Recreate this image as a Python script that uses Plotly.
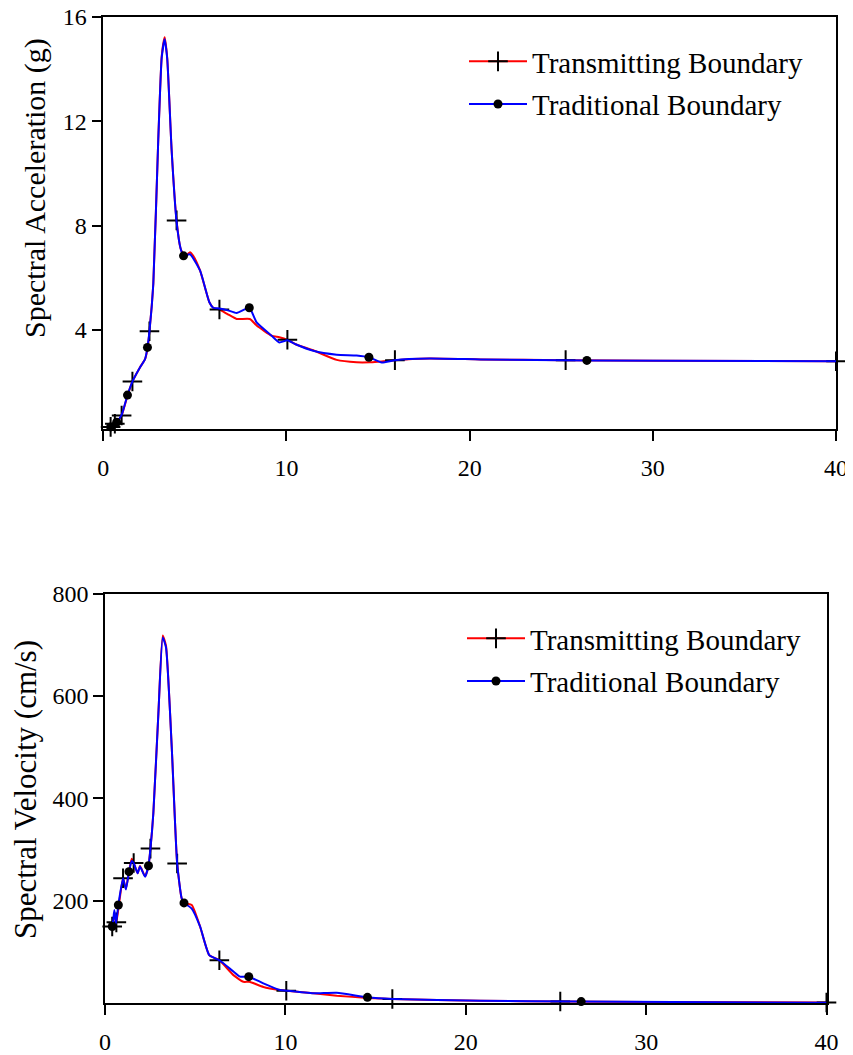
import plotly.graph_objects as go

# ---------------- data ----------------
# Top panel: Spectral Acceleration (g)
sa_trans_x = [0.27, 0.40, 0.63, 0.76, 1.00, 1.33, 1.59, 2.00, 2.28, 2.42, 2.52, 2.73, 3.00, 3.19, 3.35,
              3.49, 3.73, 4.00, 4.22, 4.42, 4.60, 4.73, 4.90, 5.28, 5.79, 6.00, 6.34, 6.80, 7.28, 8.00,
              8.37, 9.19, 9.61, 10.05, 10.50, 11.46, 12.74, 13.83, 14.56, 15.20, 15.92, 17.80, 20.60,
              25.24, 30.00, 40.00]
sa_trans_y = [0.25, 0.28, 0.40, 0.48, 0.72, 1.50, 2.02, 2.56, 2.88, 3.30, 3.95, 5.77, 11.28, 14.50, 15.22,
              14.42, 10.90, 8.20, 7.12, 6.84, 6.90, 6.98, 6.85, 6.28, 5.06, 4.85, 4.78, 4.60, 4.42, 4.42,
              4.17, 3.78, 3.72, 3.62, 3.45, 3.22, 2.85, 2.76, 2.76, 2.79, 2.84, 2.90, 2.87,
              2.84, 2.82, 2.80]
sa_trans_marks = [1, 2, 4, 6, 10, 17, 26, 33, 40, 43, 45]

sa_trad_x = [0.27, 0.40, 0.73, 1.00, 1.32, 1.59, 2.00, 2.28, 2.41, 2.52, 2.73, 3.00, 3.19, 3.35, 3.49,
             3.73, 4.00, 4.22, 4.38, 4.73, 5.28, 5.79, 6.00, 6.34, 6.80, 7.28, 7.97, 8.37, 9.19, 9.61,
             10.05, 10.50, 11.46, 12.74, 13.83, 14.50, 15.20, 15.92, 17.80, 20.60, 26.40, 40.00]
sa_trad_y = [0.25, 0.28, 0.46, 0.74, 1.50, 2.02, 2.56, 2.88, 3.33, 3.95, 5.77, 11.28, 14.45, 15.15, 14.40,
             10.90, 8.15, 7.12, 6.84, 6.90, 6.28, 5.06, 4.85, 4.82, 4.75, 4.65, 4.85, 4.29, 3.78, 3.52,
             3.60, 3.45, 3.20, 3.05, 3.02, 2.95, 2.75, 2.84, 2.90, 2.87, 2.83, 2.80]
sa_trad_marks = [1, 2, 4, 8, 18, 26, 35, 40]

# Bottom panel: Spectral Velocity (cm/s)
sv_trans_x = [0.28, 0.40, 0.52, 0.63, 0.80, 1.00, 1.16, 1.33, 1.48, 1.59, 1.81, 1.94, 2.22, 2.41, 2.52,
              2.68, 2.96, 3.20, 3.38, 3.70, 4.00, 4.25, 4.40, 4.81, 5.27, 5.78, 6.34, 7.12, 7.67, 8.00,
              8.78, 9.70, 10.05, 11.55, 12.85, 14.55, 15.93, 20.80, 25.24, 30.00, 40.00]
sv_trans_y = [148, 150, 175, 158, 200, 244, 224, 257, 282, 274, 254, 268, 248, 268, 302,
              371, 566, 718, 698, 500, 273, 205, 196, 192, 150, 94, 84, 55, 42, 42,
              32, 26, 24.6, 19.5, 14.8, 10.5, 8.4, 5.0, 3.5, 2.5, 1.5]
sv_trans_marks = [1, 3, 5, 9, 14, 20, 26, 32, 36, 38, 40]

sv_trad_x = [0.28, 0.40, 0.52, 0.61, 0.74, 1.00, 1.16, 1.33, 1.48, 1.59, 1.81, 1.94, 2.22, 2.41, 2.52,
             2.68, 2.96, 3.20, 3.38, 3.70, 4.00, 4.25, 4.38, 4.81, 5.27, 5.78, 6.34, 7.12, 7.49, 7.97,
             8.78, 9.70, 10.05, 11.55, 12.85, 14.55, 15.93, 20.80, 26.40, 40.00]
sv_trad_y = [148, 150, 182, 156, 192, 244, 222, 257, 278, 274, 254, 267, 247, 268.5, 302,
             371, 566, 714, 695, 500, 273, 205, 196, 185, 150, 94, 84, 62, 52, 52,
             39, 26, 24.6, 19.5, 20.7, 11.7, 8.4, 5.0, 3.3, 1.2]
sv_trad_marks = [1, 4, 7, 13, 22, 29, 35, 38]

x_ticks = [0, 10, 20, 30, 40]
sa_ticks = [4, 8, 12, 16]
sv_ticks = [200, 400, 600, 800]

series_names = ["Transmitting Boundary", "Traditional Boundary"]
# ----------------------------------------------------------------

FONT = "'Liberation Serif', 'Times New Roman', Times, serif"
RED = "#ff0000"
BLUE = "#0000ff"

# the page body has an 8px margin; lay out in page pixels and convert
OFF = 8
W, H = 853 - OFF, 1055 - OFF


def px(p):
    return (p - OFF) / W


def py(p):
    return 1 - (p - OFF) / H


fig = go.Figure()


def add_series(x, y, marks, color, symbol, xa, ya, name, legend, group):
    fig.add_trace(go.Scatter(
        x=x, y=y, mode="lines", line=dict(color=color, width=2, shape="spline", smoothing=0.5),
        xaxis=xa, yaxis=ya, showlegend=False, hoverinfo="skip"))
    mx = [x[i] for i in marks]
    my = [y[i] for i in marks]
    if symbol == "cross":
        mk = dict(symbol="cross-thin", size=14, color="black", line=dict(color="black", width=2))
    else:
        mk = dict(symbol="circle", size=9, color="black", line=dict(width=0))
    fig.add_trace(go.Scatter(x=mx, y=my, mode="markers", marker=mk, xaxis=xa, yaxis=ya,
                             showlegend=False, cliponaxis=False))
    # legend entry
    fig.add_trace(go.Scatter(x=[None], y=[None], mode="lines+markers", name=name,
                             line=dict(color=color, width=2), marker=mk, legendgroup=group,
                             xaxis=xa, yaxis=ya, legend=legend))


add_series(sa_trans_x, sa_trans_y, sa_trans_marks, RED, "cross", "x", "y", series_names[0], "legend", "a1")
add_series(sa_trad_x, sa_trad_y, sa_trad_marks, BLUE, "dot", "x", "y", series_names[1], "legend", "a2")
add_series(sv_trans_x, sv_trans_y, sv_trans_marks, RED, "cross", "x2", "y2", series_names[0], "legend2", "b1")
add_series(sv_trad_x, sv_trad_y, sv_trad_marks, BLUE, "dot", "x2", "y2", series_names[1], "legend2", "b2")

axis_common = dict(showline=True, linecolor="black", linewidth=1.5, mirror=True, ticks="outside",
                   ticklen=10, tickwidth=1.5, tickcolor="black", showgrid=False, zeroline=False,
                   automargin=False, ticklabeloverflow="allow",
                   tickfont=dict(family=FONT, size=24, color="black"))
x_common = dict(ticklabelstandoff=6, **axis_common)
y_common = dict(ticksuffix="\u00a0\u00a0", **axis_common)

legend_common = dict(xanchor="left", yanchor="top", bgcolor="rgba(0,0,0,0)", itemwidth=58,
                     font=dict(family=FONT, size=29, color="black"), tracegroupgap=2)

fig.update_layout(
    template="none",
    width=W, height=H, margin=dict(l=0, r=0, t=0, b=0, autoexpand=False),
    paper_bgcolor="white", plot_bgcolor="white",
    font=dict(family=FONT, color="black"),
    xaxis=dict(domain=[px(103.3), px(836)], anchor="y", range=[0, 40], tickvals=x_ticks, **x_common),
    yaxis=dict(domain=[py(429), py(17)], anchor="x", range=[0.2, 16], tickvals=sa_ticks, **y_common),
    xaxis2=dict(domain=[px(105), px(826.5)], anchor="y2", range=[0, 40], tickvals=x_ticks, **x_common),
    yaxis2=dict(domain=[py(1003.3), py(593.5)], anchor="x2", range=[0, 800], tickvals=sv_ticks, **y_common),
    legend=dict(x=px(464), y=py(36), **legend_common),
    legend2=dict(x=px(462), y=py(613), **legend_common),
    annotations=[
        dict(text="Spectral Acceleration (g)", textangle=-90, xref="paper", yref="paper",
             x=px(35), y=py(188), xanchor="center", yanchor="middle", showarrow=False,
             font=dict(family=FONT, size=30, color="black")),
        dict(text="Spectral Velocity (cm/s)", textangle=-90, xref="paper", yref="paper",
             x=px(25), y=py(790), xanchor="center", yanchor="middle", showarrow=False,
             font=dict(family=FONT, size=31, color="black")),
    ],
)

fig.write_html("out.html")
